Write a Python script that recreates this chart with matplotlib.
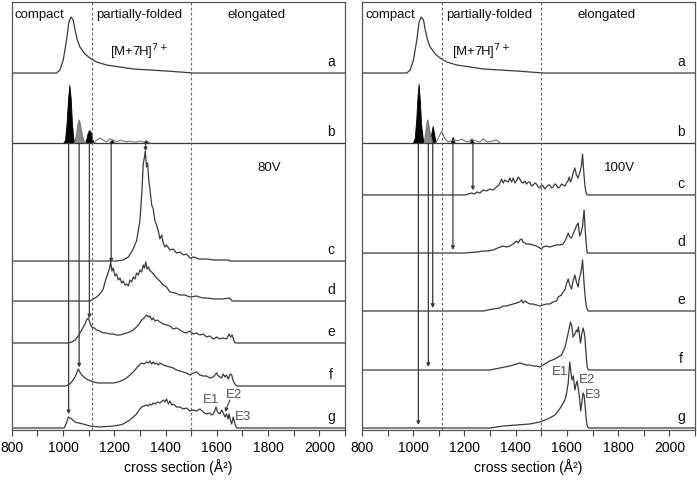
import numpy as np
import matplotlib
matplotlib.use("Agg")
import matplotlib.pyplot as plt

plt.rcParams['font.family'] = ['Liberation Sans', 'DejaVu Sans']

# ---- data (intensities in arbitrary units, x in cross section A^2) ----
a_x = [975, 988, 1001, 1014, 1023, 1031, 1040, 1047, 1056, 1066, 1086, 1105, 1131, 1170, 1222, 1274, 1339, 1404, 1456, 1508]
a_y = [0, 3, 13, 33, 51, 56, 53, 43, 33, 26, 19, 15, 11, 8, 6, 4, 3, 2, 1, 0]

# left panel (80V)
lb_black_x = [[1000, 1008, 1014, 1020, 1025, 1030, 1035, 1040, 1046], [1086, 1092, 1097, 1103, 1108, 1113, 1120],
              [1180, 1190, 1200], [1315, 1323, 1330]]
lb_black_y = [[0, 3, 20, 45, 58, 45, 20, 5, 0], [0, 5, 11, 13, 11, 5, 0], [0, 3, 0], [0, 3, 0]]
lb_gray_x = [[1045, 1053, 1058, 1063, 1069, 1077, 1085]]
lb_gray_y = [[0, 8, 18, 23, 15, 5, 0]]
lb_line_x = [1120, 1132, 1144, 1157, 1170, 1183, 1196, 1209, 1222, 1235, 1248, 1261, 1274, 1287, 1300, 1313, 1326, 1340]
lb_line_y = [0, 3, 5, 3, 1, 4, 3, 1, 3, 2, 1, 2, 1, 1, 2, 1, 2, 0]

lc_x = [1209, 1235, 1255, 1270, 1287, 1300, 1308, 1313, 1318, 1321, 1326, 1330, 1335, 1340, 1346, 1352, 1359, 1365,
        1372, 1378, 1385, 1391, 1398, 1404, 1417, 1430, 1443, 1456, 1470, 1482, 1495, 1510, 1530, 1560, 1590, 1620,
        1645, 1650]
lc_y = [0, 1, 4, 10, 20, 40, 70, 97, 104, 110, 94, 98, 80, 70, 56, 52, 40, 36, 30, 22, 26, 18, 14, 16, 11, 12, 8, 9,
        6, 7, 3, 4, 2, 2, 1, 1, 1, 0]
ld_x = [1105, 1118, 1131, 1140, 1150, 1157, 1163, 1170, 1177, 1182, 1186, 1191, 1196, 1203, 1209, 1216, 1222, 1229,
        1235, 1242, 1248, 1255, 1261, 1268, 1274, 1281, 1287, 1294, 1300, 1307, 1313, 1318, 1323, 1328, 1333, 1340,
        1346, 1356, 1365, 1378, 1391, 1404, 1417, 1436, 1456, 1475, 1495, 1520, 1545, 1560, 1590, 1625, 1650, 1660]
ld_y = [0, 2, 4, 6, 9, 12, 18, 24, 29, 33, 39, 30, 33, 25, 27, 21, 23, 18, 20, 16, 17, 15, 21, 19, 24, 22, 28, 26,
        31, 29, 36, 33, 39, 32, 34, 30, 29, 26, 23, 20, 16, 14, 9, 8, 6, 6, 4, 5, 3, 3, 2, 2, 3, 0]
le_x = [1020, 1034, 1047, 1060, 1073, 1086, 1092, 1099, 1105, 1112, 1122, 1131, 1144, 1157, 1170, 1183, 1196, 1209,
        1222, 1235, 1248, 1261, 1274, 1287, 1297, 1307, 1316, 1326, 1333, 1339, 1346, 1352, 1359, 1369, 1378, 1391,
        1404, 1417, 1430, 1443, 1456, 1469, 1482, 1495, 1508, 1521, 1534, 1547, 1560, 1573, 1586, 1599, 1612, 1625,
        1638, 1648, 1654, 1660, 1666, 1672]
le_y = [0, 1, 3, 7, 13, 19, 23, 25, 20, 16, 15, 13, 12, 10, 10, 9, 9, 8, 8, 9, 10, 11, 13, 16, 19, 23, 25, 28, 26,
        27, 23, 25, 22, 23, 21, 19, 18, 17, 14, 15, 13, 11, 10, 12, 9, 10, 8, 9, 6, 7, 4, 6, 4, 5, 4, 9, 6, 8, 3, 0]
lf_x = [1008, 1021, 1034, 1047, 1055, 1060, 1066, 1073, 1086, 1099, 1118, 1138, 1157, 1177, 1196, 1216, 1235, 1248,
        1261, 1274, 1287, 1297, 1307, 1316, 1326, 1333, 1339, 1346, 1352, 1359, 1365, 1372, 1378, 1391, 1404, 1417,
        1430, 1443, 1456, 1469, 1482, 1495, 1508, 1521, 1534, 1547, 1560, 1573, 1586, 1599, 1606, 1612, 1619, 1625,
        1632, 1638, 1645, 1652, 1658, 1664, 1671, 1678]
lf_y = [0, 1, 4, 9, 14, 17, 14, 11, 8, 6, 4, 3, 3, 3, 3, 4, 6, 8, 11, 14, 18, 21, 23, 22, 24, 23, 25, 22, 24, 22,
        23, 21, 23, 21, 20, 19, 18, 16, 15, 14, 13, 11, 13, 14, 11, 10, 10, 8, 9, 13, 10, 9, 8, 12, 9, 11, 7, 12, 11,
        5, 2, 0]
lg_x = [1005, 1012, 1021, 1027, 1034, 1047, 1060, 1079, 1105, 1144, 1196, 1222, 1235, 1248, 1261, 1274, 1287, 1297,
        1307, 1316, 1326, 1333, 1339, 1346, 1352, 1359, 1369, 1378, 1391, 1398, 1404, 1411, 1417, 1424, 1430, 1443,
        1456, 1469, 1482, 1495, 1508, 1521, 1534, 1547, 1560, 1573, 1580, 1586, 1592, 1597, 1603, 1612, 1619, 1625,
        1632, 1638, 1644, 1648, 1653, 1658, 1664, 1671, 1677]
lg_y = [0, 4, 11, 10, 9, 6, 5, 4, 2, 1, 2, 3, 4, 6, 8, 11, 14, 18, 21, 22, 23, 22, 24, 23, 25, 24, 26, 25, 28, 26,
        29, 24, 27, 23, 24, 21, 21, 19, 20, 17, 18, 17, 19, 16, 14, 15, 13, 14, 17, 21, 16, 14, 18, 15, 11, 14, 9,
        14, 8, 4, 11, 4, 0]

# right panel (100V)
rb_black_x = [[998, 1006, 1012, 1017, 1021, 1026, 1031, 1037, 1043], [1066, 1071, 1076, 1081, 1088],
              [1146, 1154, 1162], [1220, 1228, 1236]]
rb_black_y = [[0, 5, 25, 48, 59, 42, 18, 5, 0], [0, 10, 17, 10, 0], [0, 6, 0], [0, 4, 0]]
rb_gray_x = [[1043, 1050, 1056, 1061, 1066, 1072]]
rb_gray_y = [[0, 12, 23, 16, 8, 3]]
rb_line_x = [1088, 1100, 1111, 1122, 1135, 1146, 1162, 1175, 1189, 1200, 1215, 1228, 1245, 1260, 1273, 1290, 1310,
             1325, 1340]
rb_line_y = [0, 6, 12, 5, 1, 2, 3, 2, 4, 2, 1, 4, 2, 1, 4, 1, 2, 3, 0]

rc_x = [1202, 1215, 1228, 1240, 1247, 1260, 1273, 1286, 1299, 1312, 1325, 1335, 1345, 1351, 1358, 1364, 1371, 1377,
        1384, 1390, 1397, 1403, 1410, 1416, 1423, 1429, 1436, 1442, 1449, 1455, 1462, 1468, 1475, 1481, 1488, 1494,
        1501, 1507, 1514, 1520, 1527, 1533, 1540, 1546, 1553, 1559, 1566, 1572, 1579, 1585, 1592, 1598, 1604, 1609,
        1614, 1618, 1624, 1631, 1637, 1644, 1648, 1653, 1657, 1661, 1666, 1670, 1674, 1679]
rc_y = [0, 1, 2, 1, 3, 2, 5, 4, 6, 5, 8, 10, 16, 12, 15, 14, 13, 17, 13, 17, 12, 14, 18, 16, 13, 12, 14, 11, 13, 13,
        9, 10, 12, 11, 8, 7, 10, 9, 6, 8, 10, 10, 7, 8, 11, 10, 7, 8, 11, 10, 9, 12, 14, 18, 13, 15, 22, 27, 20, 17,
        21, 25, 30, 41, 22, 10, 3, 0]
rd_x = [1143, 1200, 1250, 1273, 1290, 1312, 1330, 1351, 1364, 1377, 1390, 1403, 1410, 1416, 1423, 1429, 1436, 1442,
        1455, 1468, 1481, 1494, 1501, 1507, 1520, 1533, 1546, 1559, 1572, 1585, 1592, 1598, 1605, 1611, 1618, 1624,
        1631, 1637, 1644, 1650, 1655, 1661, 1667, 1671, 1674, 1679]
rd_y = [0, 0, 1, 2, 2, 3, 5, 7, 6, 7, 9, 12, 10, 13, 14, 11, 10, 9, 9, 8, 7, 5, 4, 6, 7, 6, 7, 8, 8, 9, 12, 15, 20,
        16, 15, 19, 23, 27, 30, 17, 20, 27, 43, 25, 13, 0]
re_x = [1273, 1312, 1338, 1351, 1364, 1377, 1390, 1403, 1416, 1423, 1429, 1436, 1442, 1455, 1468, 1481, 1494, 1507,
        1520, 1533, 1546, 1559, 1566, 1579, 1585, 1592, 1598, 1605, 1611, 1618, 1624, 1631, 1637, 1644, 1648, 1653,
        1657, 1661, 1667, 1672, 1676, 1683]
re_y = [0, 2, 3, 5, 5, 6, 7, 8, 9, 11, 8, 10, 9, 7, 7, 6, 5, 6, 7, 7, 9, 10, 14, 16, 19, 21, 27, 32, 26, 22, 30, 36,
        29, 24, 32, 37, 42, 51, 27, 12, 4, 0]
rf_x = [1299, 1338, 1377, 1403, 1416, 1429, 1442, 1455, 1468, 1481, 1494, 1507, 1520, 1533, 1553, 1566, 1579, 1586,
        1592, 1599, 1605, 1614, 1619, 1624, 1631, 1637, 1641, 1645, 1649, 1653, 1658, 1663, 1667, 1670, 1675, 1679,
        1684]
rf_y = [0, 2, 4, 6, 7, 6, 5, 5, 4, 4, 3, 5, 7, 9, 11, 13, 15, 19, 22, 30, 37, 48, 44, 33, 36, 40, 38, 43, 35, 27,
        36, 42, 38, 33, 15, 3, 0]
rg_x = [1299, 1351, 1403, 1455, 1494, 1514, 1533, 1553, 1566, 1579, 1592, 1599, 1605, 1611, 1616, 1620, 1625, 1631,
        1636, 1640, 1644, 1648, 1654, 1658, 1663, 1667, 1671, 1675, 1679, 1684]
rg_y = [0, 2, 3, 4, 6, 8, 10, 13, 17, 22, 28, 35, 45, 66, 55, 48, 52, 38, 44, 47, 40, 33, 17, 25, 35, 33, 22, 10,
        2, 0]

letters = ['a', 'b', 'c', 'd', 'e', 'f', 'g']
left_offsets = [357, 287, 169, 129, 87, 44, 2]
right_offsets = [357, 287, 235, 177, 119, 60, 2]

left_arrow_x = [1022, 1063, 1103, 1188, 1322]
left_arrow_to = ['g', 'f', 'e', 'd', 'c']
right_arrow_x = [1020, 1059, 1076, 1155, 1233]
right_arrow_to = ['g', 'f', 'e', 'd', 'c']

regions = ['compact', 'partially-folded', 'elongated']
region_x = [812, 1130, 1643]
boundaries = [1113, 1500]

LINE = '#3a3a3a'


def draw_panel(ax, traces, bpeaks, offsets, arrow_x, arrow_to, volt, ion_x, e_pos, e_arrow):
    off = dict(zip(letters, offsets))
    # traces a, c..g, each drawn over the full width so the baseline shows
    for name in ['a', 'c', 'd', 'e', 'f', 'g']:
        xs, ys = traces[name]
        x = [800] + list(xs) + [2100]
        y = np.array([0] + list(ys) + [0]) + off[name]
        ax.plot(x, y, color=LINE, lw=0.9)
    # panel b: filled peaks + outline
    bx_black, by_black, bx_gray, by_gray, bline_x, bline_y = bpeaks
    ax.plot([800, 2100], [off['b'], off['b']], color=LINE, lw=0.9)
    for xs, ys in zip(bx_black, by_black):
        ax.fill_between(xs, off['b'], np.array(ys) + off['b'], color='black', lw=0.6)
    for xs, ys in zip(bx_gray, by_gray):
        ax.fill_between(xs, off['b'], np.array(ys) + off['b'], color='#8a8a8a', lw=0.6)
        ax.plot(xs, np.array(ys) + off['b'], color='#777777', lw=0.8)
    ax.plot(bline_x, np.array(bline_y) + off['b'], color='#777777', lw=0.8)

    # arrows from panel b down to the peaks
    for x0, name in zip(arrow_x, arrow_to):
        xs, ys = traces[name]
        tip = off[name] + np.interp(x0, xs, ys, left=0, right=0) + 3
        ax.annotate('', xy=(x0, tip), xytext=(x0, off['b']),
                    arrowprops=dict(arrowstyle='-|>', color=LINE, lw=0.9,
                                    mutation_scale=5, shrinkA=0, shrinkB=0))

    for b in boundaries:
        ax.axvline(b, color='#666666', lw=0.8, ls=(0, (2.5, 2)))

    for t, x in zip(regions, region_x):
        ax.text(x, 415, t, fontsize=9.5, ha='left', va='center', color='#111111')
    ax.text(ion_x, 378, '[M+7H]$^{7+}$', fontsize=9.5, ha='center', va='center', color='#111111')
    ax.text(1805, 262, volt, fontsize=9.5, ha='center', va='center', color='#111111')

    for name in letters:
        ax.text(2045, off[name] + 11, name, fontsize=10, ha='center', va='center', color='#111111')

    for lab, (x, y) in zip(['E1', 'E2', 'E3'], e_pos):
        ax.text(x, y, lab, fontsize=9.5, ha='center', va='center', color='#555555')
    if e_arrow is not None:
        ax.annotate('', xy=e_arrow[1], xytext=e_arrow[0],
                    arrowprops=dict(arrowstyle='-|>', color=LINE, lw=0.8,
                                    mutation_scale=5, shrinkA=0, shrinkB=0))

    ax.set_xlim(800, 2100)
    ax.set_ylim(0, 428)
    ax.set_yticks([])
    ax.set_xticks(np.arange(800, 2001, 200))
    ax.set_xticks(np.arange(800, 2101, 100), minor=True)
    ax.tick_params(axis='x', which='both', direction='out', length=4, width=0.8,
                   labelsize=10, pad=4, color='#444444')
    for s in ax.spines.values():
        s.set_color('#555555')
        s.set_linewidth(0.9)
    ax.set_xlabel('cross section (Å²)', fontsize=10, labelpad=3)


fig = plt.figure(figsize=(6.97, 4.80), dpi=100)
ax1 = fig.add_axes([11.7 / 697, 50 / 480, 333.3 / 697, 428 / 480])
ax2 = fig.add_axes([362 / 697, 50 / 480, 333 / 697, 428 / 480])

left_traces = {'a': (a_x, a_y), 'c': (lc_x, lc_y), 'd': (ld_x, ld_y), 'e': (le_x, le_y),
               'f': (lf_x, lf_y), 'g': (lg_x, lg_y)}
right_traces = {'a': (a_x, a_y), 'c': (rc_x, rc_y), 'd': (rd_x, rd_y), 'e': (re_x, re_y),
                'f': (rf_x, rf_y), 'g': (rg_x, rg_y)}

draw_panel(ax1, left_traces,
           (lb_black_x, lb_black_y, lb_gray_x, lb_gray_y, lb_line_x, lb_line_y),
           left_offsets, left_arrow_x, left_arrow_to, '80V', 1297,
           [(1578, 30), (1666, 35), (1701, 13)], ((1651, 30), (1632, 18)))
draw_panel(ax2, right_traces,
           (rb_black_x, rb_black_y, rb_gray_x, rb_gray_y, rb_line_x, rb_line_y),
           right_offsets, right_arrow_x, right_arrow_to, '100V', 1264,
           [(1572, 58), (1679, 50), (1702, 35)], None)

plt.savefig('out.png', dpi=100)
